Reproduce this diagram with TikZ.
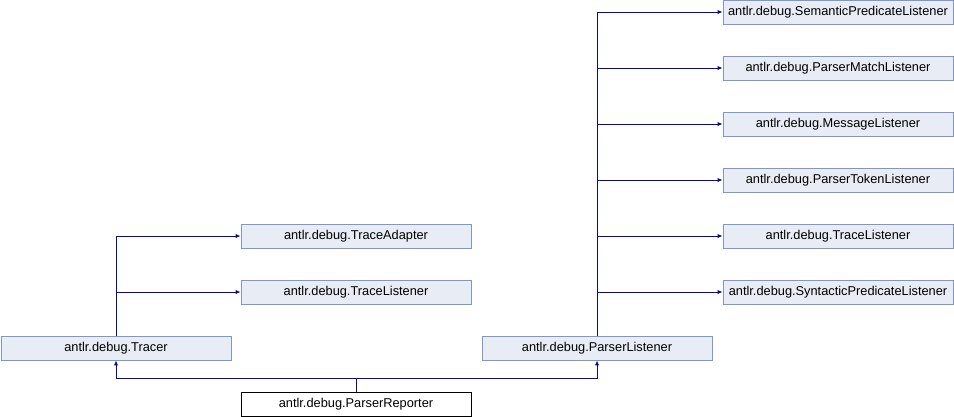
\documentclass[tikz,border=0pt]{standalone}
\usepackage{fontspec}
\setmainfont{Liberation Sans}
\usetikzlibrary{arrows.meta,calc}
\definecolor{nodefill}{HTML}{E8ECF5}
\definecolor{nodeedge}{HTML}{7F96C8}
\definecolor{edgecol}{HTML}{0A0A96}
\tikzset{
  cls/.style={draw=nodeedge, fill=nodefill, line width=0.9pt, minimum width=230pt, minimum height=24pt, inner sep=0pt, font=\fontsize{12.8}{14}\selectfont, text=black,
    append after command={\pgfextra{\let\mynode\tikzlastnode}
      [fill=nodeedge, draw=none] ($(\mynode.south east)+(-5pt,0)$) -- (\mynode.south east) -- ($(\mynode.south east)+(0,5pt)$) -- cycle}},
  focus/.style={draw=black, fill=white, line width=0.9pt, minimum width=230pt, minimum height=24pt, inner sep=0pt, font=\fontsize{12.8}{14}\selectfont},
  inh/.style={draw=edgecol, line width=1pt, -{Latex[length=5pt,width=4.5pt]}},
  ln/.style={draw=edgecol, line width=1pt}
}
\begin{document}
\begin{tikzpicture}[x=1pt,y=-1pt]
\useasboundingbox (0,0) rectangle (954,416);
\node[cls] (tracer) at (116,348) {antlr.debug.Tracer};
\node[focus] (rep) at (356,404) {antlr.debug.ParserReporter};
\node[cls] (pl) at (597,348) {antlr.debug.ParserListener};
\node[cls] (ta) at (356,236) {antlr.debug.TraceAdapter};
\node[cls] (tl1) at (356,292) {antlr.debug.TraceListener};
\node[cls] (r1) at (838,12) {antlr.debug.SemanticPredicateListener};
\node[cls] (r2) at (838,68) {antlr.debug.ParserMatchListener};
\node[cls] (r3) at (838,124) {antlr.debug.MessageListener};
\node[cls] (r4) at (838,180) {antlr.debug.ParserTokenListener};
\node[cls] (r5) at (838,236) {antlr.debug.TraceListener};
\node[cls] (r6) at (838,292) {antlr.debug.SyntacticPredicateListener};
\coordinate (j) at (356,378);
% ParserReporter inheritance
\draw[ln] (rep.north) -- (j);
\draw[inh] (j) -| (tracer.south);
\draw[inh] (j) -| (pl.south);
% Tracer
\draw[inh] (tracer.north) |- (ta.west);
\draw[inh] (tracer.north) |- (tl1.west);
% ParserListener
\foreach \n in {r1,r2,r3,r4,r5,r6}
  \draw[inh] (pl.north) |- (\n.west);
\end{tikzpicture}
\end{document}
